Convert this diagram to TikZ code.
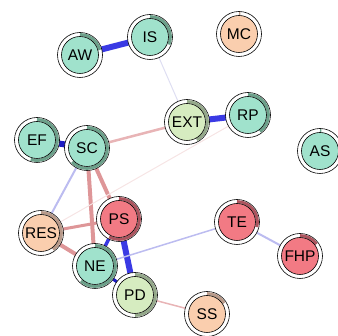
\documentclass[tikz,border=0pt]{standalone}
\usepackage{fontspec}
\setmainfont{Liberation Sans}
\usetikzlibrary{backgrounds}

\begin{document}
\begin{tikzpicture}[x=1pt,y=1pt]
  \def\rout{22.5}
  \def\rin{18.5}
  \def\rarc{20.4}
  \definecolor{mint}{RGB}{160,226,204}
  \definecolor{mintDark}{RGB}{108,160,138}
  \definecolor{sage}{RGB}{214,236,192}
  \definecolor{sageDark}{RGB}{148,168,138}
  \definecolor{peach}{RGB}{250,206,174}
  \definecolor{peachDark}{RGB}{184,154,138}
  \definecolor{coral}{RGB}{242,122,132}
  \definecolor{coralDark}{RGB}{172,84,94}
  \definecolor{posStrong}{RGB}{58,58,228}
  \definecolor{posDark}{RGB}{28,28,196}
  \definecolor{posLight}{RGB}{188,188,240}
  \definecolor{posFaint}{RGB}{222,222,242}
  \definecolor{negMid}{RGB}{222,150,152}
  \definecolor{negLight}{RGB}{232,180,182}
  \definecolor{negFaint}{RGB}{246,228,228}
  \tikzset{
    netnode/.style={circle, draw=black, line width=0.6pt, minimum size=37pt,
      inner sep=0pt, font=\fontsize{15.5}{16}\selectfont},
    ring/.style={fill=white, draw=black, line width=0.6pt},
    pie/.style={line width=3pt}
  }
  \useasboundingbox (0,0) rectangle (338,336);

  % nodes: name / x / y / colour / predictability
  \foreach \nm/\x/\y/\col/\pred in {
      AW/80/281/mint/0.21, IS/150/299/mint/0.31, MC/239/302/peach/0.01,
      EF/37/196/mint/0.55, SC/87/188/mint/0.63, EXT/187/214/sage/0.42,
      RP/248/221/mint/0.40, AS/320/185/mint/0.01, RES/41/103/peach/0.40,
      PS/119/117/coral/0.58, NE/95/70/mint/0.62, PD/135/41/sage/0.50,
      TE/237/114/coral/0.29, FHP/300/80/coral/0.15, SS/207/22/peach/0.16} {
    \path[ring] (\x,\y) circle (\rout);
    \draw[pie, \col Dark] ([shift={(90:\rarc)}]\x,\y)
      arc[start angle=90, delta angle={-360*\pred}, radius=\rarc];
    \node[netnode, fill=\col] (\nm) at (\x,\y) {\nm};
  }

  % edges under the nodes
  \begin{scope}[on background layer]
    \foreach \a/\b/\w/\c in {
        AW/IS/6/posStrong, EF/SC/6/posDark, EXT/RP/6/posStrong,
        PS/PD/6/posStrong, PS/NE/3.5/posStrong, NE/PD/3/posDark,
        SC/PS/4/negMid, SC/NE/4/negMid, RES/NE/4/negMid, RES/PS/3/negMid,
        SC/EXT/2.5/negLight, SC/RES/2/posLight, NE/TE/1.5/posLight,
        TE/FHP/2/posLight, IS/EXT/1/posFaint, PD/SS/1.5/negLight,
        RES/RP/1/negFaint} {
      \draw[line width=\w pt, \c] (\a) -- (\b);
    }
  \end{scope}
\end{tikzpicture}
\end{document}
